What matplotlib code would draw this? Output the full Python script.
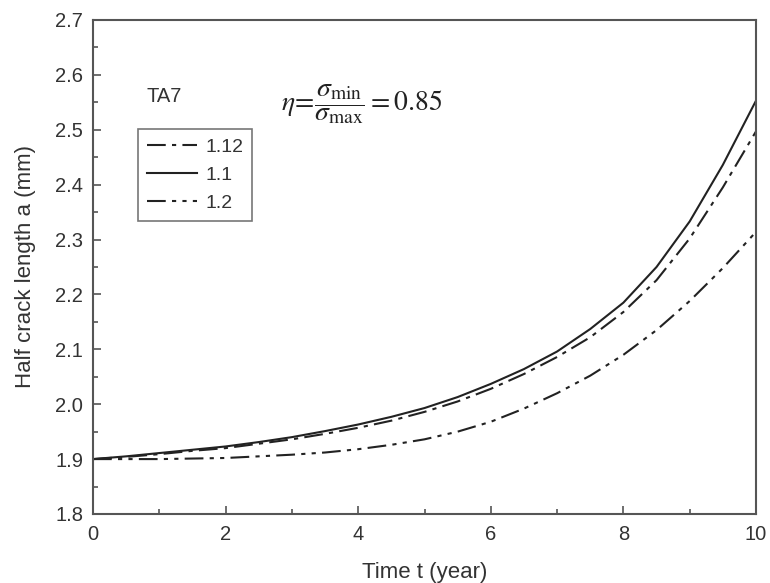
import matplotlib
matplotlib.use("Agg")
import matplotlib.pyplot as plt
from matplotlib.ticker import MultipleLocator

TIME = [0, 0.5, 1, 1.5, 2, 2.5, 3, 3.5, 4, 4.5, 5, 5.5, 6, 6.5, 7, 7.5, 8, 8.5, 9, 9.5, 10]

A_112 = [1.900, 1.904, 1.909, 1.915, 1.920, 1.928, 1.936, 1.946, 1.957, 1.970, 1.986,
         2.005, 2.028, 2.055, 2.086, 2.122, 2.168, 2.226, 2.302, 2.395, 2.497]
A_11 = [1.900, 1.905, 1.911, 1.917, 1.923, 1.931, 1.940, 1.951, 1.963, 1.977, 1.993,
        2.013, 2.037, 2.064, 2.096, 2.137, 2.185, 2.250, 2.333, 2.436, 2.553]
A_12 = [1.900, 1.900, 1.900, 1.901, 1.902, 1.905, 1.908, 1.912, 1.918, 1.926, 1.936,
        1.950, 1.968, 1.992, 2.020, 2.052, 2.090, 2.135, 2.188, 2.248, 2.314]

LABELS = ["1.12", "1.1", "1.2"]

plt.rcParams.update({
    "font.family": ["Liberation Sans", "DejaVu Sans"],
    "mathtext.fontset": "stix",
})

INK = "#222222"
EDGE = "#555555"
TEXT = "#333333"

fig = plt.figure(figsize=(7.7, 5.83), dpi=100)
ax = fig.add_axes([0.1208, 0.1184, 0.861, 0.8473])

ax.plot(TIME, A_112, color=INK, lw=1.5, linestyle=(0, (9, 3, 2, 3)), label=LABELS[0])
ax.plot(TIME, A_11, color=INK, lw=1.5, linestyle="-", label=LABELS[1])
ax.plot(TIME, A_12, color=INK, lw=1.5, linestyle=(0, (9, 3, 2, 3, 2, 3)), label=LABELS[2])

ax.set_xlim(0, 10)
ax.set_ylim(1.8, 2.7)
ax.xaxis.set_major_locator(MultipleLocator(2))
ax.xaxis.set_minor_locator(MultipleLocator(1))
ax.yaxis.set_major_locator(MultipleLocator(0.1))
ax.yaxis.set_minor_locator(MultipleLocator(0.05))
ax.tick_params(which="both", direction="in", color=EDGE, width=1.2,
               top=False, right=False, labelcolor=TEXT, labelsize=14.5)
ax.tick_params(axis="x", which="major", pad=8)
ax.tick_params(axis="y", which="major", pad=7)
ax.tick_params(which="major", length=6)
ax.tick_params(which="minor", length=3.5)
for side in ax.spines.values():
    side.set_color(EDGE)
    side.set_linewidth(1.5)

ax.set_xlabel("Time t (year)", fontsize=16, color=TEXT, labelpad=13)
ax.set_ylabel("Half crack length a (mm)", fontsize=16, color=TEXT, labelpad=14)

ax.text(0.081, 0.846, "TA7", transform=ax.transAxes, fontsize=14.5, color=TEXT,
        va="center", ha="left")
ax.text(0.283, 0.83, r"$\eta\!=\!\dfrac{\sigma_{\mathrm{min}}}{\sigma_{\mathrm{max}}}=0.85$",
        transform=ax.transAxes, fontsize=20, color=INK, va="center", ha="left")

leg = ax.legend(loc="upper left", bbox_to_anchor=(0.068, 0.779), fontsize=14,
                frameon=True, fancybox=False, handlelength=2.6, handletextpad=0.4,
                borderpad=0.45, labelspacing=0.55, borderaxespad=0)
leg.get_frame().set_edgecolor(EDGE)
leg.get_frame().set_linewidth(1.2)
for t in leg.get_texts():
    t.set_color(TEXT)

fig.savefig("out.png", dpi=100)
